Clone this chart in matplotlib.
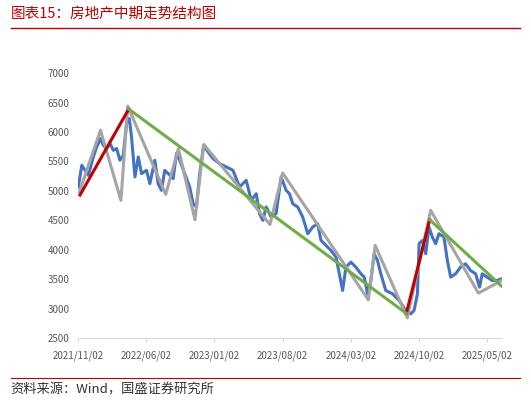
import matplotlib.pyplot as plt
from matplotlib.lines import Line2D

plt.rcParams['font.family'] = ['Noto Sans CJK SC', 'DejaVu Sans']

# x in months since 2021/11/02
idx_x = [0.03, 0.38, 0.72, 1.06, 1.57, 1.91, 2.32, 2.59, 2.93, 3.28, 3.62, 3.96, 4.30, 4.64,
         4.98, 5.26, 5.49, 5.84, 6.18, 6.52, 7.03, 7.37, 7.88, 8.22, 8.56, 8.90, 9.25, 9.76,
         10.10, 10.44, 10.95, 11.46, 11.81, 12.15, 12.49, 12.90, 13.34, 13.85, 14.53, 15.22,
         15.90, 16.58, 17.26, 17.78, 18.29, 18.63, 18.97, 19.31, 19.82, 20.33, 20.85, 21.36,
         21.70, 22.04, 22.55, 23.06, 23.58, 24.09, 24.60, 24.94, 25.45, 25.96, 26.48, 26.82,
         27.16, 27.50, 28.01, 28.52, 29.03, 29.38, 29.72, 30.06, 30.40, 30.74, 31.08, 31.59,
         32.28, 32.96, 33.64, 34.15, 34.49, 34.84, 35.01, 35.35, 35.69, 36.03, 36.37, 36.71,
         37.05, 37.56, 37.91, 38.25, 38.76, 39.27, 39.78, 40.29, 40.81, 41.22, 41.49, 42.00,
         42.51, 43.03, 43.47]
idx_y = [5067, 5435, 5350, 5265, 5577, 5747, 5889, 5775, 5719, 5804, 5690, 5719, 5520, 5605,
         6144, 6229, 5917, 5237, 5577, 5294, 5350, 5123, 5520, 5123, 5010, 5350, 5294, 5208,
         5634, 5520, 5294, 5067, 4783, 4727, 5294, 5775, 5662, 5549, 5464, 5407,
         5350, 5067, 5180, 4840, 4953, 4613, 4500, 4727, 4557, 4613, 5237, 5010,
         4953, 4783, 4727, 4557, 4273, 4387, 4443, 4160, 4075, 3990, 3876, 3593,
         3309, 3706, 3791, 3706, 3593, 3536, 3253, 3479, 3933, 3820, 3593, 3309,
         3253, 3139, 2969, 2913, 2969, 3253, 4103, 4160, 3933, 4387, 4217, 4103,
         4273, 4217, 3820, 3536, 3593, 3706, 3763, 3649, 3593, 3366, 3593, 3536,
         3479, 3479, 3508]

zig_x = [0.13, 2.3, 4.4, 5.1, 9.0, 10.3, 12.0, 12.9, 19.7, 21.0, 29.8, 30.5, 33.8, 36.2, 41.1, 43.5]
zig_y = [4980, 6030, 4840, 6440, 4940, 5720, 4510, 5790, 4430, 5305, 3150, 4075, 2845, 4670, 3265, 3480]

up_segments = [([0.2, 5.2], [4930, 6390]), ([33.7, 36.1], [2920, 4510])]
down_segments = [([5.2, 33.7], [6390, 2920]), ([36.1, 43.5], [4510, 3380])]

tick_pos = [0, 7, 14, 21, 28, 35, 42]
tick_labels = ['2021/11/02', '2022/06/02', '2023/01/02', '2023/08/02',
               '2024/03/02', '2024/10/02', '2025/05/02']

fig = plt.figure(figsize=(5.31, 4.04), dpi=100)
ax = fig.add_axes([0.147, 0.163, 0.798, 0.656])

ax.plot(idx_x, idx_y, color='#4472C4', lw=2.2, zorder=2)
ax.plot(zig_x, zig_y, color='#A5A5A5', lw=2.2, zorder=3)
for xs, ys in up_segments:
    ax.plot(xs, ys, color='#C00000', lw=2.2, zorder=4)
for xs, ys in down_segments:
    ax.plot(xs, ys, color='#70AD47', lw=2.2, zorder=4)

ax.set_xlim(0, 43.5)
ax.set_ylim(2500, 7000)
ax.set_yticks(range(2500, 7001, 500))
ax.set_xticks(tick_pos)
ax.set_xticklabels(tick_labels)
ax.tick_params(axis='both', labelsize=7, colors='#595959', length=0, pad=6)
ax.tick_params(axis='x', length=3, color='#D9D9D9', direction='out')
for s in ['top', 'right', 'left']:
    ax.spines[s].set_visible(False)
ax.spines['bottom'].set_color('#D9D9D9')

fig.text(0.02, 0.965, '图表15：房地产中期走势结构图', color='#C00000', fontsize=10.5,
         style='italic', va='center', ha='left')
fig.add_artist(Line2D([0.02, 0.98], [0.93, 0.93], color='#C00000', lw=1))
fig.add_artist(Line2D([0.02, 0.98], [0.065, 0.065], color='#C00000', lw=0.8))
fig.text(0.02, 0.035, '资料来源：Wind，国盛证券研究所', color='#333333', fontsize=9.5,
         style='italic', va='center', ha='left')

fig.savefig('out.png', dpi=100)
